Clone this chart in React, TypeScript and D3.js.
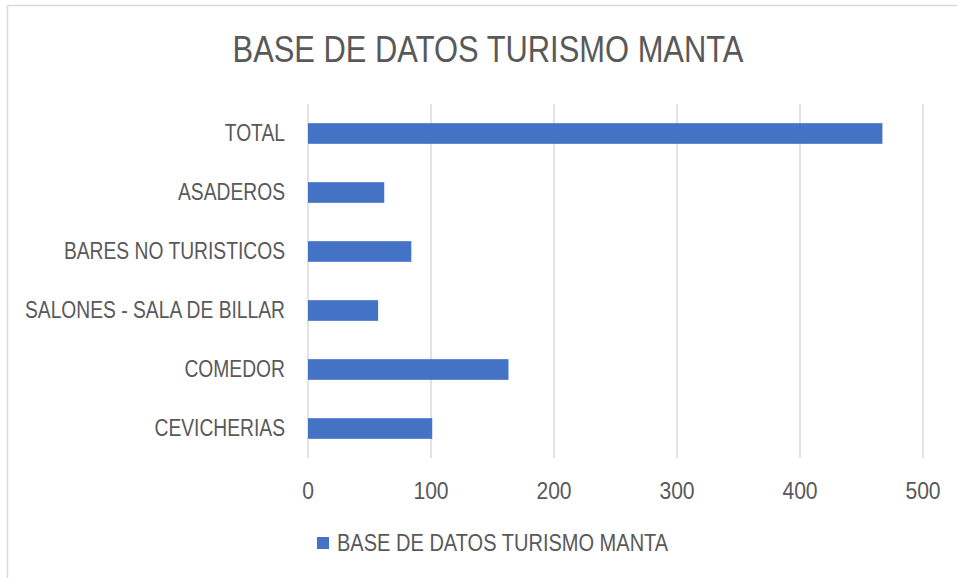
import React from "react";
import * as d3 from "d3";

// data
const categories = ["TOTAL", "ASADEROS", "BARES NO TURISTICOS", "SALONES - SALA DE BILLAR", "COMEDOR", "CEVICHERIAS"];
const values = [467, 62, 84, 57, 163, 101];
const ticks = [0, 100, 200, 300, 400, 500];
const seriesName = "BASE DE DATOS TURISMO MANTA";
const title = "BASE DE DATOS TURISMO MANTA";

const W = 957;
const H = 578;
const font = "'Liberation Sans', Arial, sans-serif";
const textColor = "#595959";
const barColor = "#4472C4";
const gridColor = "#d9d9d9";

// Calibri is narrower than Liberation Sans, so text is squeezed horizontally
const Label = ({ x, y, anchor = "start", size, sx = 0.835, children }) => (
  <g transform={`translate(${x},${y}) scale(${sx},1)`}>
    <text textAnchor={anchor} dominantBaseline="central" fontSize={size} fill={textColor}>
      {children}
    </text>
  </g>
);

const App = () => {
  const plotLeft = 308;
  const plotRight = 923;
  const plotTop = 104;
  const plotBottom = 458;

  const x = d3.scaleLinear().domain([0, 500]).range([plotLeft, plotRight]);
  const y = d3
    .scaleBand()
    .domain(categories)
    .range([plotTop, plotBottom])
    .paddingInner(0.65)
    .paddingOuter(0.325);

  return (
    <svg
      width={W}
      height={H}
      style={{ position: "absolute", left: 0, top: 0, background: "#fff" }}
      fontFamily={font}
    >
      {/* chart area border (left and top edges visible) */}
      <line x1={7.5} y1={5.5} x2={W} y2={5.5} stroke={gridColor} strokeWidth={1.5} />
      <line x1={7.5} y1={5.5} x2={7.5} y2={H} stroke={gridColor} strokeWidth={1.5} />

      <Label x={488} y={49} anchor="middle" size={37}>
        {title}
      </Label>

      {/* gridlines */}
      {ticks.map((t) => (
        <line key={t} x1={x(t)} x2={x(t)} y1={plotTop} y2={plotBottom} stroke={gridColor} strokeWidth={1.5} />
      ))}

      {/* bars */}
      {categories.map((c, i) => (
        <rect key={c} x={x(0)} y={y(c)} width={x(values[i]) - x(0)} height={y.bandwidth()} fill={barColor} />
      ))}

      {/* category labels */}
      {categories.map((c) => (
        <Label key={c} x={285} y={(y(c) as number) + y.bandwidth() / 2} anchor="end" size={23.5} sx={0.82}>
          {c}
        </Label>
      ))}

      {/* x tick labels */}
      {ticks.map((t) => (
        <Label key={t} x={x(t)} y={491} anchor="middle" size={24} sx={0.88}>
          {t}
        </Label>
      ))}

      {/* legend */}
      <rect x={317} y={537} width={12} height={12} fill={barColor} />
      <Label x={337} y={543} size={24}>
        {seriesName}
      </Label>
    </svg>
  );
};

export default App;
